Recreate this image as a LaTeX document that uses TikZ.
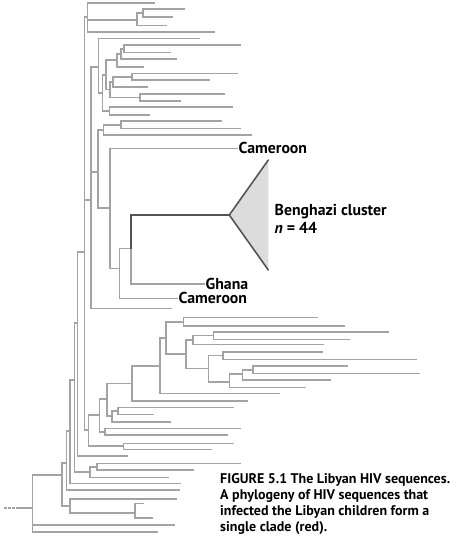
\documentclass[tikz,border=0pt]{standalone}
\usepackage{fontspec}
\setmainfont{PT Sans}
\usetikzlibrary{positioning}
\definecolor{branchgrey}{HTML}{A3A3A3}
\definecolor{cladegrey}{HTML}{555555}
\definecolor{conefill}{HTML}{DCDCDC}
\tikzset{%
	branch/.style={
		draw=branchgrey,
		line width=1.6pt,
		line cap=rect
	},
	clade path/.style={
		draw=cladegrey,
		line width=1.6pt,
		line cap=rect
	},
	tip label/.style={
		inner sep=1.5pt,
		font=\fontsize{15.8}{17}\selectfont\bfseries
	},
}

\begin{document}
\begin{tikzpicture}[x=1pt, y=-1pt]
	\useasboundingbox (0,0) rectangle (475,543);
	
	% horizontal branches: start x / y / end x
	\foreach \xa/\y/\xb in {
		84.3/17.3/87.5, 87.5/3.3/154, 87.5/20/137, 137/13.3/142.7, 142.7/9.3/184,
		142.7/17.3/172, 137/25.7/166, 87.5/32/214,
		98.3/38.7/199, 124/45.3/240, 124/52.7/170, 120.7/49/124, 120.7/59.3/176,
		116.7/54/120.7, 116.7/66.7/143, 106/60/116.7, 131.7/73.3/237, 131.7/80/209,
		112.7/76.7/131.7, 112.7/86.7/147, 110/81.7/112.7, 140/94/224, 140/101/180,
		110/97.5/140, 106/89.5/110, 102.3/75/106, 109.3/106.7/232, 109.3/115/149,
		102.3/111/109.3, 98.3/93/102.3, 91/66.7/98.3, 120.7/121/221, 120.7/128.3/240,
		103.3/125/120.7, 103.3/135/251, 97.7/130/103.3,
		119.3/248.3/130.7, 110/268.3/119.3, 97.7/208/110, 91/171.7/97.7,
		91/308.3/170.7, 84.3/200/91,
		183.3/317.3/317, 183.3/326/344, 166/321.7/183.3, 213.3/331.7/388.3,
		213.3/339.3/349, 192.7/335.5/213.3, 192.7/344.3/323.3, 186/340/192.7,
		222.7/351.7/322.3, 222.7/359.3/415.7, 208.3/355.5/222.7, 252.7/366/346.7,
		252.7/373.3/419.3, 242.3/369.7/252.7, 242.3/380/330, 229.3/374/242.3,
		229.3/387.3/305, 208.3/381.7/229.3, 186/368.6/208.3, 166/354/186,
		160/338/166, 160/393.3/279, 131.7/366/160, 131.7/400.7/246.7,
		106.7/383.3/131.7, 117.7/407.3/233.3, 117.7/414.3/153.3, 111.7/410.7/117.7,
		111.7/421.7/170, 106.7/416/111.7, 99.3/399/106.7, 105/428.3/240,
		105/435/226.7, 99.3/431.7/105, 88.3/415/99.3, 123.3/443.3/233.3,
		123.3/449.3/210.7, 88.3/446/123.3, 84.3/430/88.3,
		77.5/252/84.3, 77.5/456/127.3, 74.5/323/77.5,
		96.7/463.3/240, 96.7/470/192.7, 90/466.7/96.7, 90/477.3/168.3, 74.5/472/90,
		70/380/74.5, 70/483.3/180, 66.5/431/70, 66.5/490/179, 61.7/463/66.5,
		70/499/175.7, 135/503.3/143, 135/518/151.7, 70/512.7/135, 61.7/506/70,
		32.3/475/61.7, 32.3/525/174.3, 32.3/531.7/156.7, 17/508/32.3}
		\draw[branch] (\xa,\y) -- (\xb,\y);
	
	% vertical bars of the internal nodes: x / top y / bottom y
	\foreach \x/\ya/\yb in {
		87.5/3.3/32, 137/13.3/25.7, 142.7/9.3/17.3, 124/45.3/52.7, 120.7/49/59.3,
		116.7/54/66.7, 106/60/89.5, 131.7/73.3/80, 112.7/76.7/86.7, 140/94/101,
		110/81.7/97.5, 109.3/106.7/115, 102.3/75/111, 98.3/38.7/93,
		120.7/121/128.3, 103.3/125/135, 97.7/130/208, 110/148.3/268.3,
		119.3/248.3/298.3, 130.7/248.3/284, 91/66.7/308.3, 84.3/17.3/430,
		183.3/317.3/326, 166/321.7/354, 213.3/331.7/339.3, 192.7/335.5/344.3,
		186/340/368.6, 222.7/351.7/359.3, 252.7/366/373.3, 242.3/369.7/380,
		229.3/374/387.3, 208.3/355.5/381.7, 160/338/393.3, 131.7/366/400.7,
		117.7/407.3/414.3, 111.7/410.7/421.7, 106.7/383.3/416, 105/428.3/435,
		99.3/399/431.7, 123.3/443.3/449.3, 88.3/415/446,
		77.5/252/456, 96.7/463.3/470, 90/466.7/477.3, 74.5/323/472, 70/380/483.3,
		66.5/431/490, 135/503.3/518, 70/499/512.7, 61.7/463/506, 32.3/475/531.7}
		\draw[branch] (\x,\ya) -- (\x,\yb);
	
	% the root, cut off
	\draw[branch, dash pattern=on 2.5pt off 1.5pt, line cap=butt] (4,508) -- (17,508);
	
	% labelled tips
	\node[tip label, anchor=west] (cam1) at (237,148.3) {Cameroon};
	\node[tip label, anchor=west] (ghana) at (204,284) {Ghana};
	\node[tip label, anchor=west] (cam2) at (177,298.3) {Cameroon};
	\draw[branch] (110,148.3) -- (cam1.west);
	\draw[branch] (130.7,284) -- (ghana.west);
	\draw[branch] (119.3,298.3) -- (cam2.west);
	
	% Benghazi cluster
	\coordinate (apex) at (229.3,215);
	\coordinate (conetop) at (268.3,160);
	\coordinate (conebot) at (268.3,270);
	\fill[conefill] (apex) -- (conetop) -- (conebot) -- cycle;
	\draw[clade path, line cap=round, line join=round] (conetop) -- (apex) -- (conebot);
	\draw[clade path] (130.7,248.3) -- (130.7,215) -- (apex);
	\node[tip label, anchor=west, align=left] (cluster) at (273,219)
		{Benghazi cluster\\[1pt]\textit{n} = 44};
	
	% caption
	\node[anchor=north west, align=left, inner sep=0pt,
		font=\fontsize{14}{16}\selectfont\bfseries] (caption) at (220,473)
		{FIGURE 5.1 The Libyan HIV sequences.\\
		A phylogeny of HIV sequences that\\
		infected the Libyan children form a\\
		single clade (red).};
\end{tikzpicture}
\end{document}
